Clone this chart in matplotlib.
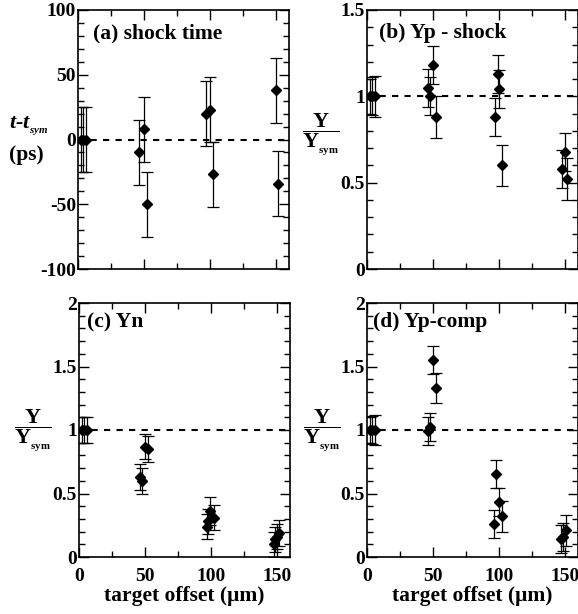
import numpy as np
import matplotlib
matplotlib.use("Agg")
import matplotlib.pyplot as plt
from matplotlib.ticker import MultipleLocator, FormatStrFormatter

plt.rcParams['font.family'] = ['Liberation Serif', 'DejaVu Serif']
plt.rcParams['font.weight'] = 'bold'
plt.rcParams['mathtext.fontset'] = 'custom'
plt.rcParams['mathtext.rm'] = 'Liberation Serif:bold'
plt.rcParams['mathtext.bf'] = 'Liberation Serif:bold'
plt.rcParams['mathtext.it'] = 'Liberation Serif:italic:bold'
plt.rcParams['mathtext.bfit'] = 'Liberation Serif:italic:bold'

# (a) shock time, ps
a_x = [2, 4, 6, 46, 50, 52, 97, 100, 102, 150, 152]
a_y = [0, 0, 0, -10, 8, -50, 20, 23, -27, 38, -34]
a_err = [25, 25, 25, 25, 25, 25, 25, 25, 25, 25, 25]

# (b) Yp - shock
b_x = [2, 4, 6, 46, 48, 50, 52, 97, 99, 100, 102, 148, 150, 152]
b_y = [1, 1, 1, 1.05, 1.0, 1.18, 0.88, 0.88, 1.13, 1.04, 0.6, 0.58, 0.68, 0.52]
b_err = [0.1, 0.11, 0.12, 0.11, 0.11, 0.11, 0.12, 0.11, 0.11, 0.11, 0.12, 0.11, 0.11, 0.12]

# (c) Yn
c_x = [2, 4, 6, 46, 48, 50, 52, 97, 98, 99, 102, 148, 149, 150, 152]
c_y = [1, 1, 1, 0.63, 0.6, 0.87, 0.85, 0.24, 0.28, 0.36, 0.31, 0.1, 0.14, 0.16, 0.19]
c_err = [0.1, 0.1, 0.1, 0.1, 0.1, 0.1, 0.1, 0.1, 0.1, 0.11, 0.1, 0.1, 0.1, 0.1, 0.1]

# (d) Yp-comp
d_x = [2, 4, 6, 46, 48, 50, 52, 96, 98, 100, 102, 147, 149, 151]
d_y = [1, 1, 1, 0.99, 1.02, 1.55, 1.33, 0.26, 0.65, 0.43, 0.32, 0.14, 0.16, 0.21]
d_err = [0.1, 0.11, 0.12, 0.11, 0.11, 0.11, 0.12, 0.11, 0.11, 0.11, 0.12, 0.11, 0.11, 0.12]

x_ticks = [0, 50, 100, 150]
frac_label = r"$\dfrac{\mathbf{Y}}{\mathbf{Y}_{{}_{\mathbf{sym}}}}$"

fig = plt.figure(figsize=(5.78, 6.14), dpi=100)
W = 211 / 578
ax_a = fig.add_axes([78 / 578, 1 - 269 / 614, W, 259 / 614])
ax_b = fig.add_axes([367 / 578, 1 - 269 / 614, W, 259 / 614])
ax_c = fig.add_axes([79 / 578, 1 - 557 / 614, W, 254 / 614])
ax_d = fig.add_axes([367 / 578, 1 - 557 / 614, W, 254 / 614])

panels = [
    (ax_a, a_x, a_y, a_err, 0, (-100, 100), 50, 10, "(a) shock time", 0.07, 0.91),
    (ax_b, b_x, b_y, b_err, 1, (0, 1.5), 0.5, 0.1, "(b) Yp - shock", 0.057, 0.91),
    (ax_c, c_x, c_y, c_err, 1, (0, 2), 0.5, 0.1, "(c) Yn", 0.04, 0.925),
    (ax_d, d_x, d_y, d_err, 1, (0, 2), 0.5, 0.1, "(d) Yp-comp", 0.03, 0.925),
]

for ax, x, y, err, ref, ylim, major, minor, title, tx, ty in panels:
    ax.axhline(ref, color='black', lw=1.5, ls=(0, (3, 3)), zorder=1)
    ax.errorbar(x, y, yerr=err, fmt='D', color='black', ms=5.5,
                elinewidth=0.9, capsize=4, capthick=0.9, zorder=3)
    ax.set_xlim(0, 160)
    ax.set_ylim(*ylim)
    ax.xaxis.set_major_locator(MultipleLocator(50))
    ax.xaxis.set_minor_locator(MultipleLocator(25))
    ax.yaxis.set_major_locator(MultipleLocator(major))
    ax.yaxis.set_minor_locator(MultipleLocator(minor))
    ax.yaxis.set_major_formatter(FormatStrFormatter('%g'))
    ax.tick_params(which='both', direction='in', top=True, right=True,
                   labelsize=14, width=1)
    ax.tick_params(axis='y', pad=1.5)
    ax.tick_params(axis='x', pad=8)
    ax.tick_params(which='major', length=7)
    ax.tick_params(which='minor', length=4)
    for s in ax.spines.values():
        s.set_linewidth(1.2)
    ax.text(tx, ty, title, transform=ax.transAxes, fontsize=15.5,
            fontweight='bold', ha='left', va='center')

for ax in (ax_a, ax_b):
    ax.tick_params(labelbottom=False)
for ax in (ax_c, ax_d):
    ax.set_xticks(x_ticks)
    ax.set_xlabel("target offset (\u03bcm)", fontsize=15.5, fontweight='bold', labelpad=1)

ax_a.text(-0.235, 0.555, r"$\mathbfit{t}$-$\mathbfit{t}_{{}_{\mathbfit{sym}}}$", transform=ax_a.transAxes,
          fontsize=16, fontweight='bold', fontstyle='italic', ha='center', va='center')
ax_a.text(-0.245, 0.44, "(ps)", transform=ax_a.transAxes,
          fontsize=15.5, fontweight='bold', ha='center', va='center')
ax_b.text(-0.22, 0.52, frac_label, transform=ax_b.transAxes,
          fontsize=16, ha='center', va='center')
ax_c.text(-0.218, 0.50, frac_label, transform=ax_c.transAxes,
          fontsize=16, ha='center', va='center')
ax_d.text(-0.213, 0.50, frac_label, transform=ax_d.transAxes,
          fontsize=16, ha='center', va='center')

fig.savefig("out.png", dpi=100)
